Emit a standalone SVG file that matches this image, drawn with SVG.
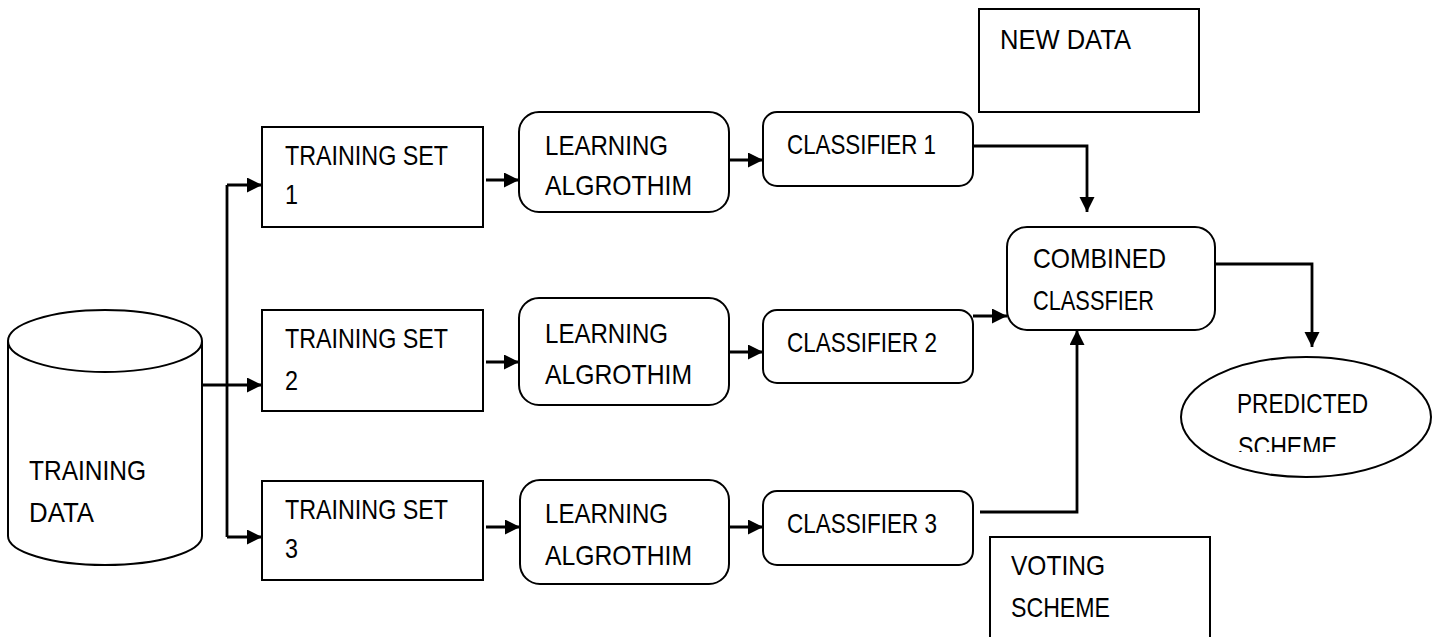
<svg xmlns="http://www.w3.org/2000/svg" width="1437" height="637" viewBox="0 0 1437 637">
<style>
.box{fill:#fff;stroke:#000;stroke-width:2}
.t{font-family:"Liberation Sans",Arial,sans-serif;font-size:28px;fill:#000}
.c{fill:none;stroke:#000;stroke-width:2.8}
</style>
<defs>
<marker id="ah" markerUnits="userSpaceOnUse" markerWidth="16" markerHeight="16" refX="15" refY="7.5" orient="auto">
<path d="M0,0 L15,7.5 L0,15 z" fill="#000"/>
</marker>
<clipPath id="ellclip"><rect x="1180" y="356" width="255" height="96"/></clipPath>
</defs>
<rect width="1437" height="637" fill="#fff"/>

<g id="training-data">
<path class="box" d="M8,341 L8,536 A97,29 0 0 0 202,536 L202,341"/>
<ellipse class="box" cx="105" cy="341" rx="97" ry="31"/>
<text class="t" x="29" y="480" textLength="117" lengthAdjust="spacingAndGlyphs">TRAINING</text>
<text class="t" x="29" y="522" textLength="65" lengthAdjust="spacingAndGlyphs">DATA</text>
</g>

<g id="set1">
<rect class="box" x="262" y="127" width="221" height="100"/>
<text class="t" x="285" y="165" textLength="163" lengthAdjust="spacingAndGlyphs">TRAINING SET</text>
<text class="t" x="285" y="204" textLength="13" lengthAdjust="spacingAndGlyphs">1</text>
</g>
<g id="set2">
<rect class="box" x="262" y="310" width="221" height="101"/>
<text class="t" x="285" y="348" textLength="163" lengthAdjust="spacingAndGlyphs">TRAINING SET</text>
<text class="t" x="285" y="390" textLength="13" lengthAdjust="spacingAndGlyphs">2</text>
</g>
<g id="set3">
<rect class="box" x="262" y="481" width="221" height="99"/>
<text class="t" x="285" y="519" textLength="163" lengthAdjust="spacingAndGlyphs">TRAINING SET</text>
<text class="t" x="285" y="558" textLength="13" lengthAdjust="spacingAndGlyphs">3</text>
</g>

<g id="learn1">
<rect class="box" x="519" y="112" width="210" height="100" rx="20"/>
<text class="t" x="545" y="155" textLength="123" lengthAdjust="spacingAndGlyphs">LEARNING</text>
<text class="t" x="545" y="195" textLength="147" lengthAdjust="spacingAndGlyphs">ALGROTHIM</text>
</g>
<g id="learn2">
<rect class="box" x="519" y="298" width="210" height="107" rx="20"/>
<text class="t" x="545" y="343" textLength="123" lengthAdjust="spacingAndGlyphs">LEARNING</text>
<text class="t" x="545" y="384" textLength="147" lengthAdjust="spacingAndGlyphs">ALGROTHIM</text>
</g>
<g id="learn3">
<rect class="box" x="520" y="480" width="209" height="104" rx="20"/>
<text class="t" x="545" y="523" textLength="123" lengthAdjust="spacingAndGlyphs">LEARNING</text>
<text class="t" x="545" y="565" textLength="147" lengthAdjust="spacingAndGlyphs">ALGROTHIM</text>
</g>

<g id="classifier1">
<rect class="box" x="763" y="112" width="210" height="74" rx="14"/>
<text class="t" x="787" y="154" textLength="149" lengthAdjust="spacingAndGlyphs">CLASSIFIER 1</text>
</g>
<g id="classifier2">
<rect class="box" x="763" y="310" width="210" height="73" rx="14"/>
<text class="t" x="787" y="352" textLength="150" lengthAdjust="spacingAndGlyphs">CLASSIFIER 2</text>
</g>
<g id="classifier3">
<rect class="box" x="763" y="491" width="210" height="74" rx="14"/>
<text class="t" x="787" y="533" textLength="150" lengthAdjust="spacingAndGlyphs">CLASSIFIER 3</text>
</g>

<g id="new-data">
<rect class="box" x="979" y="9" width="220" height="103"/>
<text class="t" x="1000" y="49" textLength="131" lengthAdjust="spacingAndGlyphs">NEW DATA</text>
</g>

<g id="combined">
<rect class="box" x="1007" y="227" width="208" height="103" rx="20"/>
<text class="t" x="1033" y="268" textLength="133" lengthAdjust="spacingAndGlyphs">COMBINED</text>
<text class="t" x="1033" y="310" textLength="121" lengthAdjust="spacingAndGlyphs">CLASSFIER</text>
</g>

<g id="predicted">
<ellipse class="box" cx="1306" cy="417" rx="125" ry="60"/>
<g clip-path="url(#ellclip)">
<text class="t" x="1237" y="413" textLength="131" lengthAdjust="spacingAndGlyphs">PREDICTED</text>
<text class="t" x="1238" y="456" textLength="99" lengthAdjust="spacingAndGlyphs">SCHEME</text>
</g>
</g>

<g id="voting">
<rect class="box" x="990" y="537" width="220" height="110"/>
<text class="t" x="1011" y="575" textLength="94" lengthAdjust="spacingAndGlyphs">VOTING</text>
<text class="t" x="1011" y="617" textLength="99" lengthAdjust="spacingAndGlyphs">SCHEME</text>
</g>

<g id="connectors">
<line class="c" x1="227" y1="185" x2="227" y2="537"/>
<line class="c" x1="227" y1="185" x2="262" y2="185" marker-end="url(#ah)"/>
<line class="c" x1="202" y1="385" x2="262" y2="385" marker-end="url(#ah)"/>
<line class="c" x1="227" y1="537" x2="262" y2="537" marker-end="url(#ah)"/>
<line class="c" x1="486" y1="180" x2="519" y2="180" marker-end="url(#ah)"/>
<line class="c" x1="486" y1="362" x2="519" y2="362" marker-end="url(#ah)"/>
<line class="c" x1="486" y1="527" x2="520" y2="527" marker-end="url(#ah)"/>
<line class="c" x1="729" y1="160" x2="763" y2="160" marker-end="url(#ah)"/>
<line class="c" x1="729" y1="352" x2="763" y2="352" marker-end="url(#ah)"/>
<line class="c" x1="729" y1="527" x2="763" y2="527" marker-end="url(#ah)"/>
<polyline class="c" points="973,146 1087,146 1087,212" marker-end="url(#ah)"/>
<line class="c" x1="973" y1="316" x2="1007" y2="316" marker-end="url(#ah)"/>
<polyline class="c" points="980,512 1077,512 1077,330" marker-end="url(#ah)"/>
<polyline class="c" points="1215,264 1312,264 1312,347" marker-end="url(#ah)"/>
</g>
</svg>
